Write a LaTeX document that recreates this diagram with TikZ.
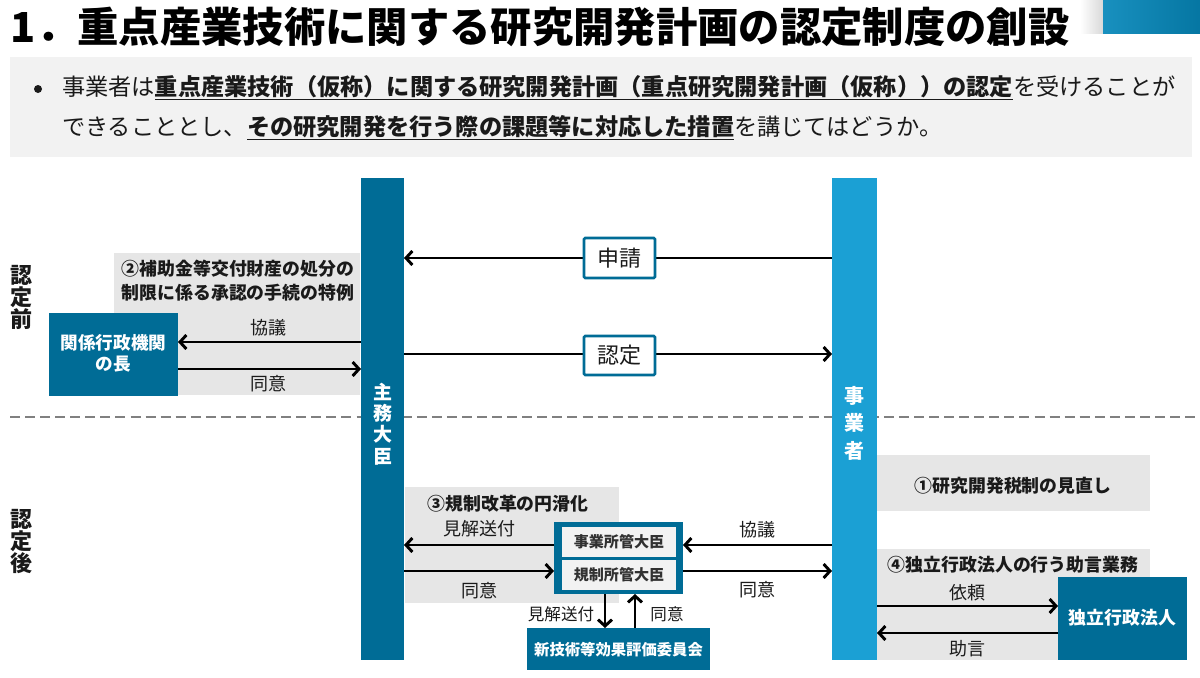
\documentclass[tikz,border=0pt]{standalone}
\usepackage{fontspec}
\setmainfont{Noto Sans CJK JP}
\usetikzlibrary{fit,arrows.meta}
\definecolor{teal1}{HTML}{006C96}
\definecolor{sky1}{HTML}{1BA0D4}
\definecolor{grey1}{HTML}{E6E6E6}
\definecolor{grey0}{HTML}{F2F2F2}
\definecolor{ink}{HTML}{1A1A1A}
\newcommand\myul[1]{\setbox0\hbox{#1}\rlap{\rule[-3.2pt]{\wd0}{1.1pt}}\box0}
\begin{document}
\begin{tikzpicture}[x=0.75pt,y=-0.75pt,
  every node/.style={inner sep=0pt,outer sep=0pt,text=ink},
  rect/.style={inner sep=0pt,outer sep=0pt,draw=none},
  tealbox/.style={rect,fill=teal1},
  greybox/.style={rect,fill=grey1},
  lbox/.style={rect,fill=white,draw=teal1,line width=2pt,rounded corners=1pt},
  ibox/.style={rect,fill=grey0},
  arr/.style={line width=2.2pt,-{Straight Barb[length=4.8pt,width=10.5pt]}},
  lab/.style={font=\fontsize{13.5}{16}\selectfont},
  gtitle/.style={font=\fontsize{13.4}{18}\selectfont\bfseries},
  wtext/.style={text=white,font=\fontsize{13.4}{16}\selectfont\bfseries,align=center},
  itext/.style={text=ink!90,font=\fontsize{11.3}{14}\selectfont\bfseries},
  vtext/.style={align=center,font=\fontsize{16.5}{16.5}\selectfont\bfseries},
]
\useasboundingbox (0,0) rectangle (1200,678);
\fill[white] (0,0) rectangle (1200,678);

% header
\node[rect,fit={(1080,0) (1103,33)},left color=white,right color=black!15] (shade) {};
\node[rect,fit={(1103,0) (1200,33)},left color=sky1!90!black,right color=teal1!80!sky1] (corner) {};
\node[anchor=west,font=\fontsize{31}{36}\selectfont\bfseries,text=black] (title) at (11,27)
  {1．重点産業技術に関する研究開発計画の認定制度の創設};
\node[rect,fit={(10,57) (1192,157)},fill=grey0] (hdr) {};
\fill[ink] (38,89) circle (4);
\node[anchor=west,font=\fontsize{17.4}{20}\selectfont] (line1) at (62,88)
  {事業者は\myul{\bfseries 重点産業技術（仮称）に関する研究開発計画（重点研究開発計画（仮称））の認定}を受けることが};
\node[anchor=west,font=\fontsize{17.4}{20}\selectfont] (line2) at (62,128)
  {できることとし、\myul{\bfseries その研究開発を行う際の課題等に対応した措置}を講じてはどうか。};

% phase labels
\node[vtext] (before) at (21,297) {認\\定\\前};
\node[vtext] (after) at (21,542) {認\\定\\後};

% dashed separator
\coordinate (dl) at (10,417);
\coordinate (dr) at (1200,417);
\draw[black!50,line width=1.3pt,dash pattern=on 7.5pt off 3.8pt] (dl) -- (dr);

% grey areas
\node[greybox,fit={(114,253) (360,395)}] (g2) {};
\node[greybox,fit={(405,487) (619,603)}] (g3) {};
\node[greybox,fit={(877,455) (1150,511)}] (g1) {};
\node[greybox,fit={(877,549) (1150,660)}] (g4) {};
\node[gtitle,align=left] (g2t) at (238,281) {②補助金等交付財産の処分の\\制限に係る承認の手続の特例};
\node[gtitle] (g3t) at (508,504) {③規制改革の円滑化};
\node[gtitle] (g1t) at (1013,486) {①研究開発税制の見直し};
\node[gtitle] (g4t) at (1013,565) {④独立行政法人の行う助言業務};

% bars
\node[tealbox,fit={(361,178) (404,660)}] (M) {};
\node[rect,fill=sky1,fit={(832,178) (877,660)}] (J) {};
\node[align=center,text=white,font=\fontsize{14.25}{16}\selectfont\bfseries] (Mt) at (382.5,424) {主\\務\\大\\臣};
\node[align=center,text=white,font=\fontsize{15}{20.6}\selectfont\bfseries] (Jt) at (854.5,423) {事\\業\\者};

% boxes
\node[tealbox,fit={(49,313) (178,396)}] (KG) {};
\node[wtext,font=\fontsize{13.2}{16}\selectfont\bfseries] (KGt) at (113.5,353) {関係行政機関\\の長};
\node[tealbox,fit={(554,522) (683,594)}] (comp) {};
\node[ibox,fit={(562,527) (676,557)}] (compA) {};
\node[ibox,fit={(562,560) (676,590)}] (compB) {};
\node[itext] (compAt) at (619,542) {事業所管大臣};
\node[itext] (compBt) at (619,575) {規制所管大臣};
\node[tealbox,fit={(527,628) (710,670)}] (com) {};
\node[wtext,font=\fontsize{11.5}{14}\selectfont\bfseries] (comt) at (618.5,650) {新技術等効果評価委員会};
\node[tealbox,fit={(1058,577) (1187,660)}] (IAI) {};
\node[wtext] (IAIt) at (1122.5,618) {独立行政法人};

% coordinates for connector heights
\coordinate (y258) at (0,258);
\coordinate (y354) at (0,354);
\coordinate (y342) at (0,342);
\coordinate (y369) at (0,369);
\coordinate (y545) at (0,545);
\coordinate (y571) at (0,571);
\coordinate (y606) at (0,606);
\coordinate (y633) at (0,633);
\coordinate (x605) at (605,0);
\coordinate (x635) at (635,0);

% main arrows with label boxes
\draw[arr] (J.west |- y258) -- (M.east |- y258);
\draw[arr] (M.east |- y354) -- (J.west |- y354);
\node[lbox,fit={(584,238) (655,278)}] (req) {};
\node[font=\fontsize{16.5}{18}\selectfont] (reqt) at (619.5,258) {申請};
\node[lbox,fit={(584,336) (655,375)}] (nin) {};
\node[font=\fontsize{16.5}{18}\selectfont] (nint) at (619.5,355.5) {認定};

% section 2 arrows
\draw[arr] (M.west |- y342) -- (KG.east |- y342);
\draw[arr] (KG.east |- y369) -- (M.west |- y369);
\node[lab] (l1) at (268,328) {協議};
\node[lab] (l2) at (268,384) {同意};

% section 3 arrows
\draw[arr] (comp.west |- y545) -- (M.east |- y545);
\draw[arr] (M.east |- y571) -- (comp.west |- y571);
\node[lab] (l3) at (479,529) {見解送付};
\node[lab] (l4) at (479,591) {同意};
\draw[arr] (J.west |- y545) -- (comp.east |- y545);
\draw[arr] (comp.east |- y571) -- (J.west |- y571);
\node[lab] (l5) at (757,530) {協議};
\node[lab] (l6) at (757,590) {同意};
\draw[arr] (comp.south -| x605) -- (com.north -| x605);
\draw[arr] (com.north -| x635) -- (comp.south -| x635);
\node[lab,font=\fontsize{12.4}{14}\selectfont] (l7) at (561,614) {見解送付};
\node[lab,font=\fontsize{12.4}{14}\selectfont] (l8) at (667,614) {同意};

% section 4 arrows
\draw[arr] (J.east |- y606) -- (IAI.west |- y606);
\draw[arr] (IAI.west |- y633) -- (J.east |- y633);
\node[lab] (l9) at (967,593) {依頼};
\node[lab] (l10) at (967,649) {助言};
\end{tikzpicture}
\end{document}
